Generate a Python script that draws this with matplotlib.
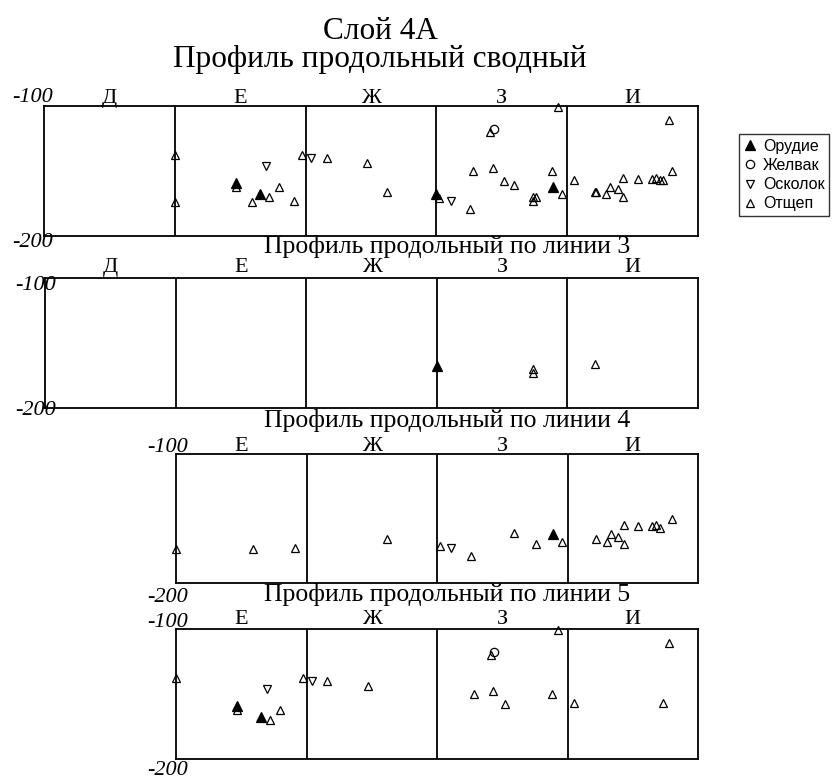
import matplotlib
matplotlib.use("Agg")
import matplotlib.pyplot as plt
from matplotlib.lines import Line2D

# ---------------- data (x in cm along profile, y = depth in cm) ----------------
squares = ["Д", "Е", "Ж", "З", "И"]
square_edges = [0, 100, 200, 300, 400, 500]

# line 3
l3_tool_x = [300];            l3_tool_y = [-168]
l3_flake_x = [374, 374, 421]; l3_flake_y = [-170, -173, -166]

# line 4
l4_tool_x = [389];  l4_tool_y = [-162]
l4_chip_x = [311];  l4_chip_y = [-173]
l4_flake_x = [100, 159, 191, 262, 302, 326, 359, 376, 396, 422, 430, 433, 439,
              443, 443, 454, 465, 468, 471, 480]
l4_flake_y = [-174, -174, -173, -166, -171, -179, -161, -170, -168, -166, -168,
              -162, -164, -170, -155, -156, -156, -155, -157, -150]

# line 5
l5_tool_x = [147, 165];   l5_tool_y = [-159, -168]
l5_nod_x = [344];         l5_nod_y = [-118]
l5_chip_x = [170, 204];   l5_chip_y = [-146, -140]
l5_flake_x = [100, 147, 172, 180, 197, 216, 247, 341, 393, 328, 343, 352, 388,
              405, 478, 473]
l5_flake_y = [-138, -162, -170, -162, -138, -140, -144, -120, -101, -150, -148,
              -158, -150, -157, -111, -157]

legend_labels = ["Орудие", "Желвак", "Осколок", "Отщеп"]
main_title = "Слой 4А"
summary_title = "Профиль продольный сводный"
line_title = "Профиль продольный по линии {}"

lines = {
    "3": dict(tool=(l3_tool_x, l3_tool_y), nod=([], []), chip=([], []),
              flake=(l3_flake_x, l3_flake_y)),
    "4": dict(tool=(l4_tool_x, l4_tool_y), nod=([], []), chip=(l4_chip_x, l4_chip_y),
              flake=(l4_flake_x, l4_flake_y)),
    "5": dict(tool=(l5_tool_x, l5_tool_y), nod=(l5_nod_x, l5_nod_y),
              chip=(l5_chip_x, l5_chip_y), flake=(l5_flake_x, l5_flake_y)),
}

def union(keys):
    out = {}
    for k in ["tool", "nod", "chip", "flake"]:
        xs, ys = [], []
        for ln in keys:
            xs += list(lines[ln][k][0]); ys += list(lines[ln][k][1])
        out[k] = (xs, ys)
    return out

# ---------------- figure ----------------
W, H = 832, 781
fig = plt.figure(figsize=(W / 100, H / 100), dpi=100)
fig.patch.set_facecolor("white")

SERIF = "Liberation Serif"
SANS = "Liberation Sans"

def rect(l, t, r, b):
    return [l / W, 1 - b / H, (r - l) / W, (b - t) / H]

styles = {
    "tool": dict(marker="^", color="black", markerfacecolor="black", markersize=6.5),
    "nod": dict(marker="o", color="black", markerfacecolor="none", markersize=6),
    "chip": dict(marker="v", color="black", markerfacecolor="none", markersize=6),
    "flake": dict(marker="^", color="black", markerfacecolor="none", markersize=6),
}

def panel(box, x0, data, col_dy, lab100_dy, lab200_dy, lab_dx):
    ax = fig.add_axes(rect(*box))
    ax.set_xlim(x0, 500)
    ax.set_ylim(-200, -100)
    ax.set_xticks([]); ax.set_yticks([])
    for s in ax.spines.values():
        s.set_linewidth(1.3)
    for e in square_edges:
        if x0 < e < 500:
            ax.axvline(e, color="black", lw=1.3)
    for i, name in enumerate(squares):
        if square_edges[i] >= x0:
            ax.text((square_edges[i] + square_edges[i + 1]) / 2, -100 + col_dy,
                    name, ha="center", va="baseline", fontsize=16, family=SERIF,
                    clip_on=False)
    for k in ["flake", "chip", "nod", "tool"]:
        xs, ys = data[k]
        if xs:
            ax.plot(xs, ys, linestyle="none", markeredgewidth=0.9, clip_on=False,
                    zorder=5, **styles[k])
    ax.text(x0 + lab_dx, -100 + lab100_dy, "-100", ha="right", va="baseline",
            fontsize=16, family=SERIF, style="italic", clip_on=False)
    ax.text(x0 + lab_dx, -200 + lab200_dy, "-200", ha="right", va="baseline",
            fontsize=16, family=SERIF, style="italic", clip_on=False)
    return ax

panel((44, 106, 698, 236), 0, union(["3", "4", "5"]), 2.5, 3, -8.5, 7)
panel((45, 278, 698, 408), 0, union(["3"]), 4.5, -9, -5.5, 8)
panel((176, 454, 698, 583), 100, union(["4"]), 2, 1.5, -15, 9)
panel((176, 629, 698, 759), 100, union(["5"]), 3.5, 1.5, -12.3, 9)

fig.text(380 / W, 1 - 67 / H, main_title + "\n" + summary_title, ha="center",
         va="baseline", multialignment="center", fontsize=22.5, family=SERIF,
         linespacing=0.97)
for yy, n in [(253, 3), (427, 4), (601, 5)]:
    fig.text(447 / W, 1 - yy / H, line_title.format(n), ha="center",
             va="baseline", fontsize=18.5, family=SERIF)

handles = [
    Line2D([], [], linestyle="none", markeredgewidth=0.9, **styles["tool"]),
    Line2D([], [], linestyle="none", markeredgewidth=0.9, **styles["nod"]),
    Line2D([], [], linestyle="none", markeredgewidth=0.9, **styles["chip"]),
    Line2D([], [], linestyle="none", markeredgewidth=0.9, **styles["flake"]),
]
leg = fig.legend(handles, legend_labels, loc="upper left",
                 bbox_to_anchor=(739 / W, 1 - 134 / H), frameon=True,
                 fancybox=False, prop={"family": SANS, "size": 11.5},
                 handlelength=0.8, handletextpad=0.4, borderpad=0.3,
                 labelspacing=0.26, borderaxespad=0)
leg.get_frame().set_edgecolor("black")
leg.get_frame().set_linewidth(1.0)

fig.savefig("out.png", dpi=100, facecolor="white")
